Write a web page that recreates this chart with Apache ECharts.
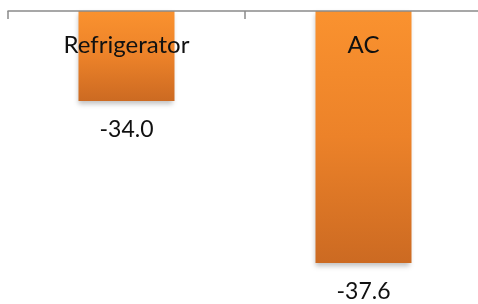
<!DOCTYPE html>
<html><head><meta charset="utf-8">
<script src="https://cdn.jsdelivr.net/npm/echarts@6/dist/echarts.min.js"></script>
<style>html,body{margin:0;padding:0;background:#fff}#c{width:478px;height:304px}</style>
</head><body><div id="c"></div>
<script>
const categories = ['Refrigerator', 'AC'];
const values = [-34.0, -37.6];
const axisMin = -38;
const axisMax = -32;

const chart = echarts.init(document.getElementById('c'));
chart.setOption({
  animation: false,
  grid: { left: 8, right: -4, top: 11, bottom: 23, containLabel: false, outerBoundsMode: 'none' },
  xAxis: {
    type: 'category', data: categories, position: 'top', z: 10,
    axisLine: { show: true, onZero: false, lineStyle: { color: '#8a8a8a', width: 1.5 } },
    axisTick: { show: true, interval: 0, inside: true, length: 8, lineStyle: { color: '#8a8a8a', width: 1.5 } },
    axisLabel: { inside: true, interval: 0, margin: 22, color: '#111', fontFamily: 'Lato', fontSize: 24 }
  },
  yAxis: { type: 'value', min: axisMin, max: axisMax, show: false, splitLine: { show: false } },
  series: [{
    type: 'bar', data: values, barWidth: '40.5%', z: 2,
    itemStyle: {
      color: new echarts.graphic.LinearGradient(0, 0, 0, 1, [
        { offset: 0, color: '#FA922F' },
        { offset: 0.5, color: '#EC8229' },
        { offset: 1, color: '#CC6A22' }
      ]),
      shadowColor: 'rgba(0,0,0,0.25)', shadowBlur: 5, shadowOffsetX: -1, shadowOffsetY: 3
    },
    label: {
      show: true, position: 'bottom', distance: 17, color: '#111',
      fontFamily: 'Lato', fontSize: 23,
      formatter: p => p.value.toFixed(1)
    }
  }]
});
</script></body></html>
